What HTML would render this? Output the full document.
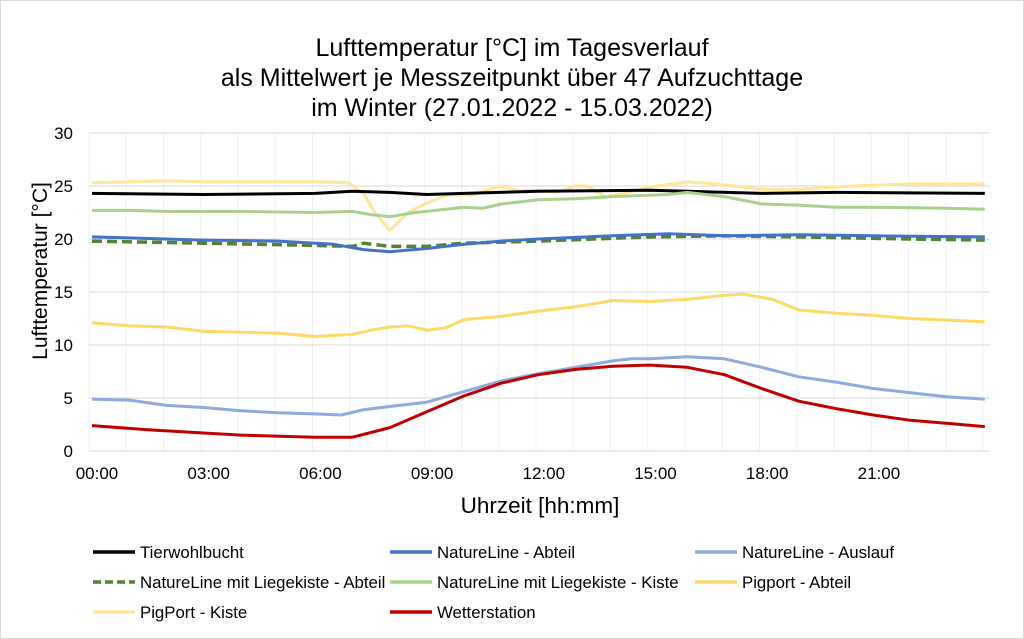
<!DOCTYPE html>
<html><head><meta charset="utf-8"><style>
body{margin:0;background:#fff}
svg{display:block;font-family:"Liberation Sans",Arial,sans-serif}
</style></head><body>
<svg id="s" width="1024" height="639" viewBox="0 0 1024 639">
<rect x="0.5" y="0.5" width="1023" height="638" fill="#fff" stroke="#d9d9d9"/>
<g font-size="25" fill="#000" text-anchor="middle">
<text x="512" y="56">Lufttemperatur [°C] im Tagesverlauf</text>
<text x="512" y="86">als Mittelwert je Messzeitpunkt über 47 Aufzuchttage</text>
<text x="512" y="116">im Winter (27.01.2022 - 15.03.2022)</text>
</g>
<g id="grid"></g>
<g id="lines" fill="none" stroke-linejoin="round"></g>
<g font-size="17" fill="#000" text-anchor="end" id="yl"></g>
<g font-size="17" fill="#000" text-anchor="middle" id="xl"></g>
<text x="540" y="513" font-size="22.5" text-anchor="middle">Uhrzeit [hh:mm]</text>
<text transform="translate(47,271) rotate(-90)" font-size="21" text-anchor="middle">Lufttemperatur [°C]</text>
<g id="leg" font-size="16.8"></g>
</svg>
<script>
const NS="http://www.w3.org/2000/svg";
function el(p,t,a,txt){const e=document.createElementNS(NS,t);for(const k in a)e.setAttribute(k,a[k]);if(txt)e.textContent=txt;document.getElementById(p).appendChild(e);return e;}
const X=h=>92+h*37.2, Y=v=>451-v*10.6;
for(let i=0;i<=24;i++)el("grid","line",{x1:89+i*37.25,x2:89+i*37.25,y1:133,y2:451,stroke:"#f0f0f0"});
for(let v=0;v<=30;v+=5){el("grid","line",{x1:89,x2:990,y1:Y(v),y2:Y(v),stroke:"#d9d9d9"});el("yl","text",{x:73,y:Y(v)+6},String(v));}
["00:00","03:00","06:00","09:00","12:00","15:00","18:00","21:00"].forEach((t,i)=>el("xl","text",{x:97+i*111.7,y:479},t));
const S=[
["#FFE699",3,null,[[0,25.3],[1,25.4],[2,25.5],[3,25.4],[5,25.4],[6,25.4],[6.9,25.3],[7.3,24.3],[7.6,22.5],[8,20.8],[8.5,22.5],[9,23.4],[9.6,24.2],[10.2,24.1],[10.6,24.6],[11,25],[11.5,24.5],[12,24.6],[12.5,24.4],[13,25],[13.3,25],[13.8,24],[14.3,24.3],[15,24.9],[16,25.4],[17,25.1],[18,24.7],[19,24.7],[20.5,25],[22,25.2],[24,25.2]]],
["#000",3,null,[[0,24.3],[3,24.2],[6,24.3],[7,24.5],[8,24.4],[9,24.2],[10,24.3],[12,24.5],[15,24.6],[16,24.5],[18,24.3],[20,24.4],[24,24.3]]],
["#A9D18E",3,null,[[0,22.7],[1,22.7],[2,22.6],[4,22.6],[6,22.5],[7,22.6],[7.5,22.3],[8,22.1],[8.7,22.5],[9,22.6],[10,23],[10.5,22.9],[11,23.3],[12,23.7],[13,23.8],[14,24],[15.5,24.2],[16,24.4],[17,24],[18,23.3],[19,23.2],[20,23],[21,23],[23,22.9],[24,22.8]]],
["#548235",3.5,"10,5",[[0,19.8],[3,19.6],[6,19.4],[7,19.3],[7.3,19.6],[8,19.3],[9,19.3],[10,19.6],[12,19.8],[15,20.2],[17,20.3],[19,20.2],[22,20],[24,19.9]]],
["#4472C4",3,null,[[0,20.2],[3,19.9],[5,19.8],[6.5,19.5],[7.3,19],[8,18.8],[9,19.1],[10,19.5],[11,19.8],[12,20],[14,20.3],[15.5,20.5],[17,20.3],[19,20.4],[21,20.3],[24,20.2]]],
["#FFD966",3,null,[[0,12.1],[1,11.8],[2,11.7],[3,11.3],[5,11.1],[6,10.8],[7,11],[7.5,11.4],[8,11.7],[8.5,11.8],[9,11.4],[9.5,11.6],[10,12.4],[11,12.7],[12,13.2],[13,13.6],[14,14.2],[15,14.1],[16,14.3],[17,14.7],[17.5,14.8],[18.3,14.3],[19,13.3],[20,13],[21,12.8],[22,12.5],[24,12.2]]],
["#8FAADC",3,null,[[0,4.9],[1,4.8],[2,4.3],[3,4.1],[4,3.8],[5,3.6],[6,3.5],[6.7,3.4],[7.3,3.9],[8,4.2],[9,4.6],[10,5.6],[11,6.6],[12,7.3],[13,7.9],[14,8.5],[14.5,8.7],[15,8.7],[16,8.9],[17,8.7],[18,7.9],[19,7],[20,6.5],[21,5.9],[22,5.5],[23,5.1],[24,4.9]]],
["#C00000",3,null,[[0,2.4],[1.5,2],[3,1.7],[4,1.5],[6,1.3],[7,1.3],[8,2.2],[9,3.7],[10,5.2],[11,6.4],[12,7.2],[13,7.7],[14,8],[15,8.1],[16,7.9],[17,7.2],[18,5.9],[19,4.7],[20,4],[21,3.4],[22,2.9],[23,2.6],[24,2.3]]]];
S.forEach(s=>{const a={points:s[3].map(p=>X(p[0]).toFixed(1)+","+Y(p[1]).toFixed(1)).join(" "),stroke:s[0],"stroke-width":s[1]};if(s[2])a["stroke-dasharray"]=s[2];el("lines","polyline",a);});
const L=[["Tierwohlbucht","#000",null,93,552],["NatureLine - Abteil","#4472C4",null,390,552],["NatureLine - Auslauf","#8FAADC",null,695,552],
["NatureLine mit Liegekiste - Abteil","#548235","8,4",93,582],["NatureLine mit Liegekiste - Kiste","#A9D18E",null,390,582],["Pigport - Abteil","#FFD966",null,695,582],
["PigPort - Kiste","#FFE699",null,93,612],["Wetterstation","#C00000",null,390,612]];
L.forEach(l=>{const a={x1:l[3],x2:l[3]+42,y1:l[4],y2:l[4],stroke:l[1],"stroke-width":3.5};if(l[2])a["stroke-dasharray"]=l[2];el("leg","line",a);el("leg","text",{x:l[3]+47,y:l[4]+6},l[0]);});
</script>
</body></html>
